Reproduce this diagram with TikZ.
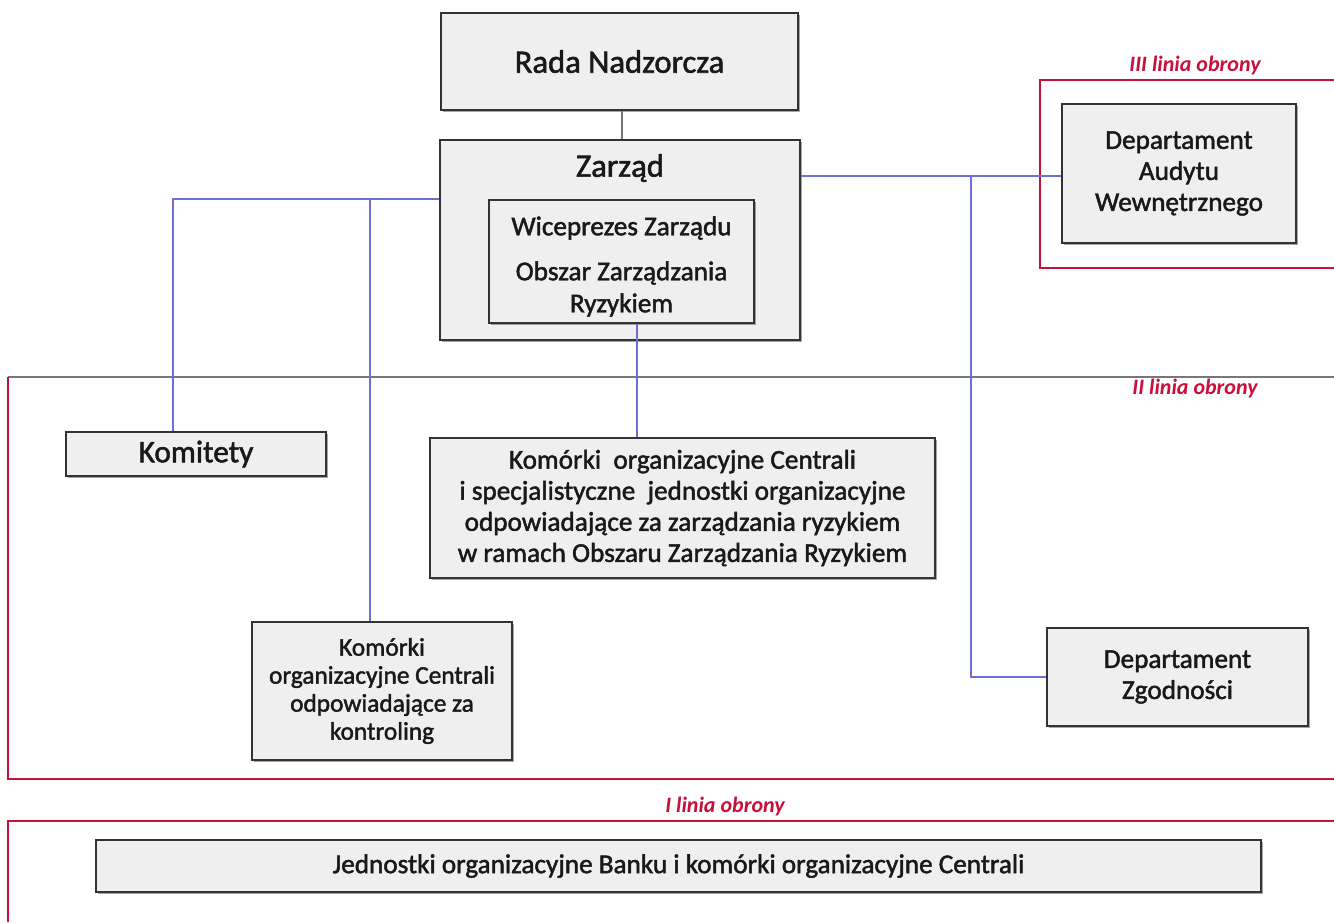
\documentclass[tikz,border=0pt]{standalone}
\usepackage{fontspec}
\setmainfont{Carlito}
\newfontfamily\boxfont{Carlito}[FakeBold=1.7]
\usetikzlibrary{shadows,fit}
\definecolor{boxfill}{HTML}{EFEFEF}
\definecolor{boxline}{HTML}{333333}
\definecolor{conblue}{HTML}{6F6FD2}
\definecolor{frred}{HTML}{C8103A}
\definecolor{frgray}{HTML}{777777}
\tikzset{
  box/.style={draw=boxline, line width=1.1pt, fill=boxfill, inner sep=0pt,
    drop shadow={shadow xshift=1.8pt, shadow yshift=-1.8pt, opacity=0.35, fill=black}},
  txt/.style={align=center, inner sep=0pt, text=black!90},
  bigtxt/.style={txt, font=\boxfont\fontsize{24.5}{28}\selectfont},
  midtxt/.style={txt, font=\boxfont\fontsize{20.4}{23.3}\selectfont},
  smalltxt/.style={txt, font=\boxfont\fontsize{19}{21}\selectfont},
  bluecon/.style={draw=conblue, line width=1.4pt},
  graycon/.style={draw=frgray, line width=1.4pt},
  redframe/.style={draw=frred, line width=1pt},
  grayframe/.style={draw=frgray, line width=1pt},
  linelabel/.style={inner sep=0pt, text=frred, font=\fontsize{16.5}{19}\selectfont\bfseries\itshape},
}
\begin{document}
\begin{tikzpicture}[x=0.75pt, y=-0.75pt]
\useasboundingbox (0,0) rectangle (1334,922);
\fill[white] (0,0) rectangle (1334,922);

% frames
\draw[redframe] (1334,80) -- (1040,80) -- (1040,268) -- (1334,268);
\draw[grayframe] (8,377) -- (1334,377);
\draw[redframe] (8,377) -- (8,779) -- (1334,779);
\draw[redframe] (1334,821) -- (8,821) -- (8,922);

\node[linelabel] (l3) at (1195,66) {III linia obrony};
\node[linelabel] (l2) at (1195,389) {II linia obrony};
\node[linelabel] (l1) at (725,806) {I linia obrony};

% boxes
\node[box, fit={(441,13)(798,110)}] (rada) {};
\node[bigtxt] (radat) at (rada.center) {Rada Nadzorcza};

\node[box, fit={(440,140)(800,340)}] (zarzad) {};
\node[bigtxt] (zarzadt) at (620,168) {Zarząd};

\node[box, fit={(489,200)(754,323)}] (wice) {};
\node[midtxt] (wicet) at (621.5,228) {Wiceprezes Zarządu};
\node[midtxt, font=\boxfont\fontsize{20.4}{24}\selectfont] (obszart) at (621.5,289) {Obszar Zarządzania\\Ryzykiem};

\node[box, fit={(1062,104)(1296,243)}] (audyt) {};
\node[midtxt] (audytt) at (audyt.center) {Departament\\Audytu\\Wewnętrznego};

\node[box, fit={(66,432)(326,476)}] (komitety) {};
\node[bigtxt, font=\boxfont\fontsize{23.5}{28}\selectfont] (komitetyt) at (komitety.center) {Komitety};

\node[box, fit={(430,438)(935,578)}] (srodek) {};
\node[midtxt] (srodekt) at (srodek.center) {Komórki\ \ organizacyjne Centrali\\i specjalistyczne\ \ jednostki organizacyjne\\odpowiadające za zarządzania ryzykiem\\w ramach Obszaru Zarządzania Ryzykiem};

\node[box, fit={(252,622)(512,760)}] (kontr) {};
\node[smalltxt] (kontrt) at (kontr.center) {Komórki\\organizacyjne Centrali\\odpowiadające za\\kontroling};

\node[box, fit={(1047,628)(1308,726)}] (zgod) {};
\node[midtxt] (zgodt) at (zgod.center) {Departament\\Zgodności};

\node[box, fit={(96,840)(1261,892)}] (dolny) {};
\node[midtxt] (dolnyt) at (dolny.center) {Jednostki organizacyjne Banku i komórki organizacyjne Centrali};

% helper coordinates
\coordinate (xr) at (622,0);
\coordinate (yl) at (0,199);
\coordinate (ya) at (0,176);
\coordinate (xk) at (173,0);
\coordinate (xc) at (370,0);
\coordinate (xw) at (637,0);
\coordinate (xz) at (971,0);

% connectors
\draw[graycon] (rada.south -| xr) -- (zarzad.north -| xr);
\draw[bluecon] (zarzad.east |- ya) -- (audyt.west |- ya);
\draw[bluecon] (xz |- ya) |- (zgod.west);
\draw[bluecon] (zarzad.west |- yl) -- (xk |- yl) -- (komitety.north -| xk);
\draw[bluecon] (xc |- yl) -- (kontr.north -| xc);
\draw[bluecon] (wice.south -| xw) -- (srodek.north -| xw);
\end{tikzpicture}
\end{document}
